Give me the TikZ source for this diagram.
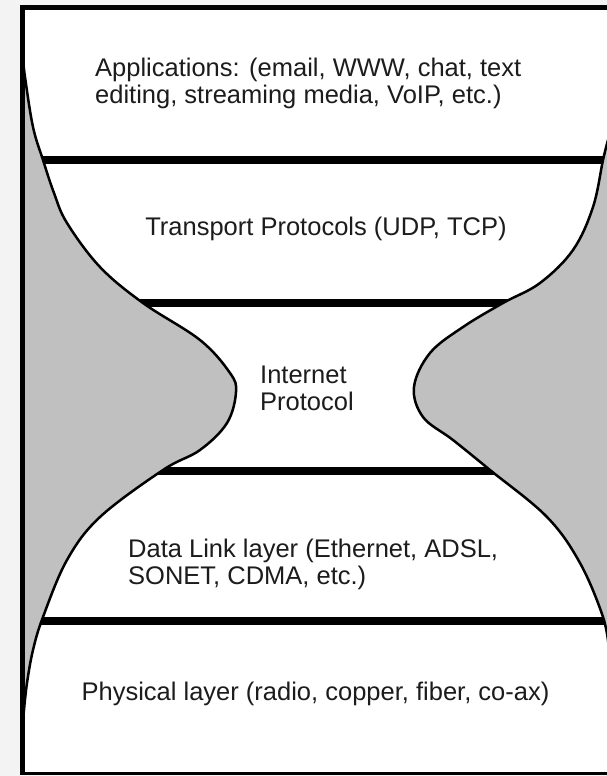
\documentclass[tikz,border=0pt]{standalone}
\usepackage{fontspec}
\setmainfont{Liberation Sans}
\definecolor{pagegray}{HTML}{F3F3F3}
\definecolor{lobegray}{HTML}{C0C0C0}
\definecolor{inkgray}{HTML}{1C1C1C}
\begin{document}
\begin{tikzpicture}[x=1pt,y=-1pt,
  layertext/.style={inner sep=0pt, text=inkgray, align=left,
    font=\fontsize{25.5}{27}\selectfont},
  divider/.style={line width=8pt, black},
  lobe/.style={fill=lobegray, draw=black, line width=2.5pt, line join=round},
  frameline/.style={black, line cap=butt}]
\useasboundingbox (0,0) rectangle (607,776);
% page and white sheet
\fill[pagegray] (0,0) rectangle (607,776);
\fill[white] (22,7) rectangle (607,773);

% ends of the four layer dividers
\coordinate (d1l) at (30,160);  \coordinate (d1r) at (607,160);
\coordinate (d2l) at (130,303); \coordinate (d2r) at (515,303);
\coordinate (d3l) at (150,471); \coordinate (d3r) at (505,471);
\coordinate (d4l) at (30,621);  \coordinate (d4r) at (607,621);
\draw[divider] (d1l) -- (d1r);
\draw[divider] (d2l) -- (d2r);
\draw[divider] (d3l) -- (d3r);
\draw[divider] (d4l) -- (d4r);

% grey waist of the hourglass
\begin{scope}
\clip (0,0) rectangle (607,776);
\draw[lobe] (22,40) -- plot[smooth, tension=0.6] coordinates {
  (23,58) (25,77) (33,127) (43,160) (54,193) (67,223) (100,267)
  (143,303) (200,340) (230,373) (236,392) (227,423) (200,450)
  (163,470) (100,517) (67,560) (43,617) (33,650) (27,683) (24,710)}
  -- (22,730) -- cycle;
\draw[lobe] (620,120) -- plot[smooth, tension=0.6] coordinates {
  (608,140) (603,160) (593,207) (573,250) (540,283) (503,303)
  (463,327) (430,353) (414,387) (423,417) (453,440) (490,470)
  (547,517) (580,563) (603,617) (609,650)}
  -- (620,660) -- cycle;
\end{scope}

% frame of the sheet
\coordinate (ftl) at (22.5,5);  \coordinate (fbl) at (22.5,775);
\coordinate (tl) at (20,7.5);   \coordinate (tr) at (607,7.5);
\coordinate (bl) at (20,773.5); \coordinate (br) at (607,773.5);
\draw[frameline, line width=5pt] (ftl) -- (fbl);
\draw[frameline, line width=4.5pt] (tl) -- (tr);
\draw[frameline, line width=3pt] (bl) -- (br);

% layer labels
\node[layertext, anchor=west] (app) at (95,83.5)
  {Applications: (email, WWW, chat, text\\editing, streaming media, VoIP, etc.)};
\node[layertext, anchor=base] (tra) at (326,235.5)
  {Transport Protocols (UDP, TCP)};
\node[layertext, anchor=west] (ipl) at (260,388) {Internet\\Protocol};
\node[layertext, anchor=west] (dll) at (128,564)
  {Data Link layer (Ethernet, ADSL,\\SONET, CDMA, etc.)};
\node[layertext, anchor=base] (phy) at (315.5,700)
  {Physical layer (radio, copper, fiber, co-ax)};
\end{tikzpicture}
\end{document}
